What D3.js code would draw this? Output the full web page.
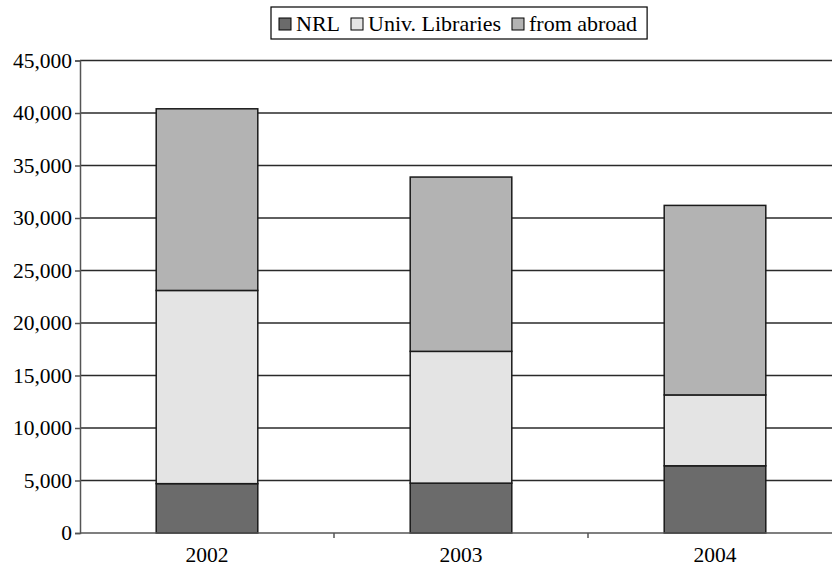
<!DOCTYPE html>
<html>
<head>
<meta charset="utf-8">
<script src="https://cdn.jsdelivr.net/npm/d3@7"></script>
<style>
  html, body { margin: 0; padding: 0; background: #fff; }
  svg { display: block; }
  text { font-family: "Liberation Serif", "Times New Roman", serif; fill: #000; }
</style>
</head>
<body>
<svg id="chart" width="832" height="568"></svg>
<script>
// Interlibrary loan requests by source, per year
const years = ["2002", "2003", "2004"];
const seriesNames = ["NRL", "Univ. Libraries", "from abroad"];
const nrl = [4700, 4750, 6400];
const univLibraries = [18400, 12550, 6750];
const fromAbroad = [17300, 16600, 18050];
const yTicks = [0, 5000, 10000, 15000, 20000, 25000, 30000, 35000, 40000, 45000];
const colors = ["#6b6b6b", "#e4e4e4", "#b3b3b3"];

const rows = years.map((yr, i) => ({
  year: yr,
  "NRL": nrl[i],
  "Univ. Libraries": univLibraries[i],
  "from abroad": fromAbroad[i]
}));

const svg = d3.select("#chart");
const plotLeft = 80, plotRight = 842, plotTop = 60.5, plotBottom = 533;

const x = d3.scaleBand().domain(years).range([plotLeft, plotRight])
  .paddingInner(0.6).paddingOuter(0.3);
const y = d3.scaleLinear().domain([0, 45000]).range([plotBottom, plotTop]);

// horizontal gridlines
svg.append("g").selectAll("line").data(yTicks.filter(t => t > 0)).join("line")
  .attr("x1", plotLeft).attr("x2", plotRight)
  .attr("y1", d => y(d)).attr("y2", d => y(d))
  .attr("stroke", "#2a2a2a").attr("stroke-width", 1.3);

// stacked bars
const stack = d3.stack().keys(seriesNames)(rows);
svg.append("g").selectAll("g").data(stack).join("g")
  .attr("fill", (d, i) => colors[i])
  .selectAll("rect").data(d => d).join("rect")
  .attr("x", d => x(d.data.year))
  .attr("width", x.bandwidth())
  .attr("y", d => y(d[1]))
  .attr("height", d => y(d[0]) - y(d[1]))
  .attr("stroke", "#1a1a1a").attr("stroke-width", 1.5);

// y axis
const fmt = d3.format(",");
const yAxis = svg.append("g").attr("transform", `translate(${plotLeft},0)`)
  .call(d3.axisLeft(y).tickValues(yTicks).tickFormat(fmt).tickSize(5).tickPadding(3));
yAxis.select(".domain").attr("stroke", "#555").attr("stroke-width", 1.5);
yAxis.selectAll(".tick line").attr("stroke", "#555").attr("stroke-width", 1.5);
yAxis.selectAll(".tick text")
  .style("font-family", "'Liberation Serif', serif")
  .style("font-size", "21.5px").attr("fill", "#000");

// x axis with ticks at category boundaries
const xAxisG = svg.append("g").attr("transform", `translate(0,${plotBottom})`);
xAxisG.append("line").attr("x1", plotLeft).attr("x2", plotRight)
  .attr("stroke", "#555").attr("stroke-width", 1.5);
const step = x.step();
const boundaries = years.slice(1).map(yr => x(yr) - (step - x.bandwidth()) / 2);
xAxisG.selectAll("line.tick").data(boundaries).join("line").attr("class", "tick")
  .attr("x1", d => d).attr("x2", d => d).attr("y1", 0).attr("y2", 5)
  .attr("stroke", "#555").attr("stroke-width", 1.5);
xAxisG.selectAll("text").data(years).join("text")
  .attr("x", d => x(d) + x.bandwidth() / 2)
  .attr("y", 29)
  .attr("text-anchor", "middle")
  .style("font-size", "21.5px")
  .text(d => d);

// legend
const legend = svg.append("g");
const legendBox = legend.append("rect")
  .attr("x", 271).attr("y", 7).attr("height", 32)
  .attr("fill", "#fff").attr("stroke", "#000").attr("stroke-width", 1.2);
let cx = 279;
seriesNames.forEach((name, i) => {
  legend.append("rect")
    .attr("x", cx).attr("y", 18).attr("width", 12).attr("height", 12)
    .attr("fill", colors[i]).attr("stroke", "#000").attr("stroke-width", 1);
  const t = legend.append("text")
    .attr("x", cx + 17).attr("y", 31)
    .style("font-size", "22px").text(name);
  cx += 17 + t.node().getComputedTextLength() + 11;
});
legendBox.attr("width", cx - 271 - 1);
</script>
</body>
</html>
